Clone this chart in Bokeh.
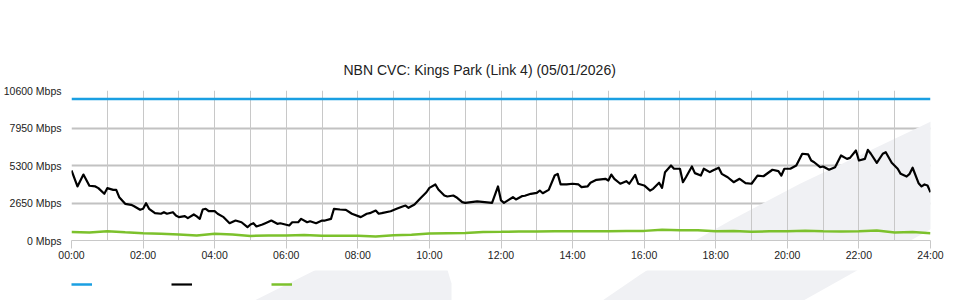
from bokeh.plotting import figure
from bokeh.layouts import column
from bokeh.models import (FixedTicker, Range1d, Grid, Legend, LegendItem, PolyAnnotation)
from bokeh.embed import file_html
from bokeh.resources import INLINE

# ---------------- data ----------------
title_text = "NBN CVC: Kings Park (Link 4) (05/01/2026)"
y_ticks = [0, 2650, 5300, 7950, 10600]
x_tick_labels = ["00:00", "02:00", "04:00", "06:00", "08:00", "10:00", "12:00",
                 "14:00", "16:00", "18:00", "20:00", "22:00", "24:00"]

capacity_min = [0, 1440]
capacity_mbps = [10000, 10000]

traffic_min = [0, 10, 20, 30, 40, 45, 55, 60, 70, 75, 80, 90, 100, 105, 115, 120, 125, 130,
               140, 150, 155, 160, 170, 175, 180, 190, 195, 205, 210, 215, 220, 225, 230, 240,
               245, 255, 265, 275, 285, 295, 300, 305, 310, 320, 325, 335, 345, 350, 365, 370,
               380, 385, 395, 400, 410, 420, 425, 435, 440, 450, 460, 470, 485, 495, 500, 510,
               515, 520, 535, 545, 555, 560, 565, 575, 585, 595, 600, 610, 615, 625, 630, 640,
               645, 655, 660, 680, 705, 715, 720, 725, 740, 745, 755, 760, 770, 780, 785, 790,
               800, 810, 815, 820, 830, 840, 850, 855, 865, 870, 880, 895, 900, 905, 910, 920,
               930, 935, 945, 950, 960, 970, 975, 985, 990, 995, 1005, 1010, 1020, 1025, 1030,
               1040, 1045, 1055, 1060, 1070, 1075, 1085, 1090, 1100, 1110, 1120, 1130, 1140,
               1150, 1160, 1175, 1185, 1190, 1195, 1205, 1215, 1225, 1235, 1240, 1245, 1255,
               1260, 1270, 1280, 1290, 1300, 1305, 1315, 1320, 1330, 1335, 1340, 1350, 1360,
               1365, 1375, 1385, 1390, 1400, 1405, 1410, 1420, 1425, 1430, 1435, 1440]
traffic_mbps = [4950, 3820, 4660, 3870, 3820, 3700, 3300, 3700, 3580, 3580, 3060, 2590, 2520,
                2420, 2170, 2240, 2640, 2240, 1930, 1890, 2000, 1890, 2000, 1770, 1650, 1720,
                1580, 1840, 1700, 1530, 2190, 2240, 2070, 2070, 1890, 1650, 1220, 1410, 1290,
                940, 1130, 1220, 990, 1130, 1220, 1410, 1180, 1220, 1060, 1290, 1290, 1530,
                1290, 1360, 1220, 1410, 1410, 1530, 2240, 2190, 2170, 1890, 1650, 1890, 1930,
                2120, 1890, 1930, 2070, 2240, 2400, 2470, 2310, 2540, 2990, 3410, 3720, 3960,
                3600, 3180, 3110, 3180, 3060, 2710, 2660, 2760, 2660, 3820, 2830, 2660, 3060,
                2900, 3130, 3160, 3300, 3370, 3530, 3340, 3580, 4590, 4710, 3960, 3960, 4010,
                3960, 3770, 3820, 4080, 4290, 4360, 4240, 4660, 4360, 4010, 4190, 4010, 4640,
                4010, 3890, 3530, 3650, 4080, 3720, 4830, 5300, 5070, 5070, 4120, 4470, 5230,
                4760, 4590, 5070, 4830, 4950, 5140, 4710, 4470, 4120, 4360, 4050, 4010, 4590,
                4540, 5000, 4900, 4590, 5070, 5070, 5300, 6130, 6080, 5650, 5530, 5180, 5230,
                5000, 5180, 6010, 5770, 5840, 6360, 5650, 5770, 6410, 6130, 5490, 6130, 6240,
                5490, 5070, 4710, 4520, 4710, 5140, 4050, 3820, 3960, 3890, 3410]

upload_min = list(range(0, 1441, 30))
upload_mbps = [600, 570, 650, 580, 520, 480, 420, 360, 480, 420, 320, 360, 350, 380, 340,
               330, 330, 290, 370, 410, 500, 520, 530, 600, 610, 630, 640, 660, 650, 660,
               650, 670, 680, 760, 720, 720, 660, 680, 620, 650, 660, 690, 660, 640, 650,
               700, 570, 600, 520]

series_colors = ["#1a9fe2", "#000000", "#7cc12c"]

MAIN_H = 270
LEG_H = 30

# watermark outline (page pixel coords, decoration only)
wm_shapes = [([254, 330, 392, 415, 440, 451, 451], [300, 262, 243, 238, 246, 283, 300]),
             ([602, 640, 677, 730, 800, 880, 960, 960, 803],
              [300, 274, 250, 220, 183, 145, 107, 212, 300])]
wm_color = "#f0f1f4"


def add_watermark(fig, y_offset):
    for xs, ys in wm_shapes:
        fig.add_layout(PolyAnnotation(xs=xs, ys=[y - y_offset for y in ys],
                                      xs_units="canvas", ys_units="canvas",
                                      fill_color=wm_color, fill_alpha=1, line_color=None,
                                      level="underlay"))


def add_series(fig):
    r1 = fig.line([m / 60 for m in capacity_min], capacity_mbps,
                  line_color=series_colors[0], line_width=2.5)
    r2 = fig.line([m / 60 for m in traffic_min], traffic_mbps,
                  line_color=series_colors[1], line_width=2.2, line_join="round")
    r3 = fig.line([m / 60 for m in upload_min], upload_mbps,
                  line_color=series_colors[2], line_width=2.5)
    return [r1, r2, r3]


# ---------------- main figure ----------------
p = figure(width=960, height=MAIN_H, output_backend="svg", toolbar_location=None,
           x_range=Range1d(0, 24), y_range=Range1d(0, 10600),
           min_border_left=70, min_border_right=30, min_border_top=90,
           min_border_bottom=30, background_fill_color="white",
           border_fill_color="white", outline_line_color=None)

p.title.text = title_text
p.title.align = "left"
p.title.offset = 272
p.title.text_font = "Liberation Sans"
p.title.text_font_size = "14px"
p.title.text_font_style = "normal"
p.title.text_color = "#222222"
p.title.standoff = 25

add_watermark(p, 0)

p.xaxis.ticker = FixedTicker(ticks=list(range(0, 25, 2)))
p.xaxis.major_label_overrides = {i * 2: lab for i, lab in enumerate(x_tick_labels)}
p.xaxis.axis_line_color = "#c8c8c8"
p.xaxis.major_tick_line_color = "#c8c8c8"
p.xaxis.major_tick_in = 0
p.xaxis.major_tick_out = 8
p.xaxis.minor_tick_line_color = None
p.xaxis.major_label_standoff = 0
p.xaxis.major_label_text_font = "Liberation Sans"
p.xaxis.major_label_text_font_size = "10.5px"
p.xaxis.major_label_text_color = "#222222"

p.yaxis.ticker = FixedTicker(ticks=y_ticks)
p.yaxis.major_label_overrides = {v: f"{v} Mbps" for v in y_ticks}
p.yaxis.axis_line_color = None
p.yaxis.major_tick_line_color = None
p.yaxis.major_tick_out = 0
p.yaxis.major_tick_in = 0
p.yaxis.minor_tick_line_color = None
p.yaxis.major_label_standoff = 10
p.yaxis.major_label_text_font = "Liberation Sans"
p.yaxis.major_label_text_font_size = "10.5px"
p.yaxis.major_label_text_color = "#222222"

p.xgrid.visible = False
p.ygrid.grid_line_color = "#c2c2c2"
p.ygrid.grid_line_width = 2
p.add_layout(Grid(dimension=0, ticker=FixedTicker(ticks=list(range(0, 25))),
                  grid_line_color="#c8c8c8", grid_line_width=1))

add_series(p)

# ---------------- legend strip ----------------
lg = figure(width=960, height=LEG_H, output_backend="svg", toolbar_location=None,
            x_range=Range1d(0, 24), y_range=Range1d(-2, -1),
            x_axis_type=None, y_axis_type=None,
            min_border_left=70, min_border_right=30, min_border_top=0, min_border_bottom=0,
            background_fill_color="white", border_fill_color="white",
            outline_line_color=None)
lg.grid.visible = False
add_watermark(lg, MAIN_H)
leg_renderers = add_series(lg)

legend = Legend(items=[LegendItem(label=" ", renderers=[r]) for r in leg_renderers],
                orientation="horizontal", location=(0, 11),
                glyph_width=21, glyph_height=10, label_height=10,
                label_standoff=0, label_width=79,
                spacing=0, padding=0, margin=0, border_line_color=None,
                background_fill_alpha=0, label_text_font_size="8px")
lg.add_layout(legend, "center")

layout = column(p, lg, spacing=0)

open("out.html", "w").write(file_html(layout, INLINE))
